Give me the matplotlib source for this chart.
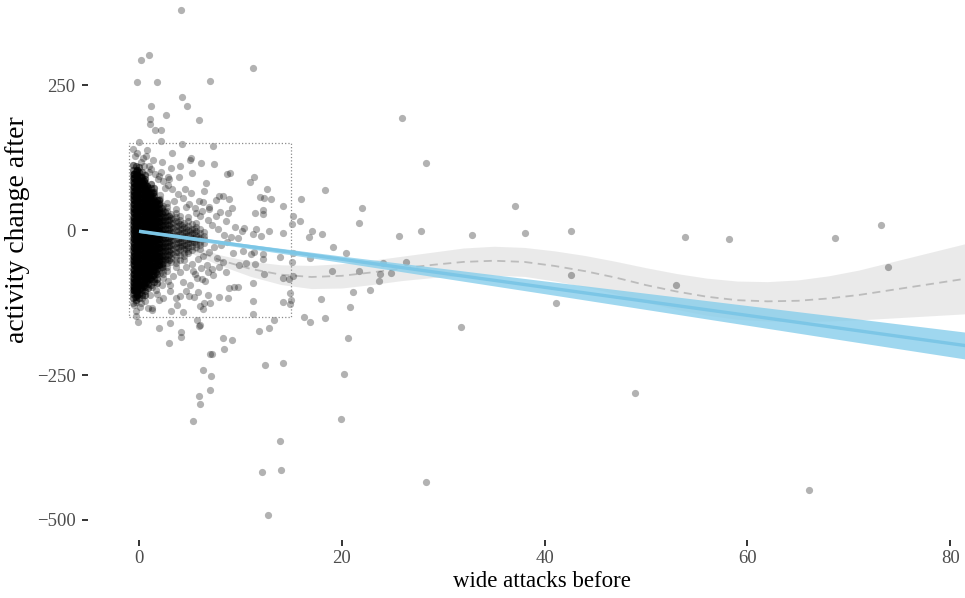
import matplotlib
matplotlib.use("Agg")
import matplotlib.pyplot as plt
from matplotlib.patches import Rectangle

# ---- individual observations (wide attacks before, activity change after) ----
obs_x = [4.1, 1.0, 0.2, 11.2, -0.2, 1.8, 7.0, 4.2, 1.2, 4.7, 2.7, 1.1, 1.1, 5.9, 1.6, 2.2, 2.2, 4.2, 7.3, 0.0,
         -0.2, 0.7, 1.4, 2.3, 3.3, 5.1, 5.0, 6.1, 7.4, 4.0, 3.2, 5.2, 1.0, 2.0, 2.9, 3.9, 8.7, 9.0, 11.3, 10.9,
         6.6, 12.6, 6.4, 5.1, 7.9, 8.3, 11.9, 12.3, 13.0, 7.6, 8.9, 6.3, 9.2, 6.9, 11.4, 12.2, 12.2, 8.0, 8.8, 6.2,
         10.4, 11.5,
         9.8, 11.2, 10.2, 12.0, 12.8, 10.3, 11.0, 11.3, 12.2, 9.9, 10.6, 11.4, 12.2, 15.1, 12.3, 15.2, 8.9, 9.4,
         9.8, 11.2, 3.1, 1.3, 1.8, 4.0, 4.9, 5.8, 5.4, 6.8, 7.9, 8.8, 2.4, 0.3, 0.2, 6.4, 7.0, 6.0, 3.7, 1.3,
         3.2, 4.3, 6.3, 11.2, 11.2,
         -0.3, -0.1, 1.3, 2.0, 3.1, 4.1, 4.1, 3.0, 5.7, 5.9, 6.0, 7.2, 7.0, 8.3, 9.2, 8.4, 6.3, 7.1, 7.0, 5.9,
         6.0, 5.3, 11.8, 12.8, 13.3, 12.4, 13.9, 12.1, 14.0, 12.7,
         25.9, 28.3, 18.3, 16.0, 22.0, 14.2, 15.2, 15.1, 15.9, 21.7, 14.2, 16.8, 17.1, 18.0, 25.6, 27.8, 32.8, 37.1,
         38.1, 42.6, 19.1, 20.4, 16.9, 15.2, 13.9, 19.0, 21.7, 24.1, 26.3, 23.8, 24.9, 23.7, 42.6, 14.2, 14.8, 21.1,
         22.8, 17.9, 14.9, 15.0, 14.9, 14.2, 20.8, 41.1, 16.3, 16.9, 18.3, 31.8, 20.6, 14.2, 20.2, 19.9, 28.3,
         53.0, 53.8, 58.2, 48.9, 68.6, 73.2, 73.9, 66.1,
         0.2, 0.5, 1.2, 1.6, 2.4, 2.9, 3.3, 3.8, 4.3, 4.9, 5.5, 6.0, 6.8, 7.2, 7.8, 8.4, 9.1, 5.6, 4.6, 3.5,
         2.6, 1.9, 1.0, 0.4, -0.4, -0.6, 0.8, 2.2, 3.0, 4.5, 5.9, 6.9, 7.6, 8.6, 9.5,
         0.2, -0.5, 0.6, 1.1, 1.7, 2.3, 2.9, 3.4, 4.0, 4.6, 5.2, 5.8, 6.3, 6.9, 7.4, 8.1, 8.7, 7.7, 6.7, 5.5,
         4.3, 3.1, 2.0, 0.9, -0.3, 0.1, -0.6, 7.2, 8.3, 9.3, 6.2, 5.0, 4.6, 3.6,
         -0.5, -0.5, -0.4, -0.3, 5.3, 6.1, 6.8, 7.3, 5.7, 6.5, 7.9, 8.6]
obs_y = [379, 302, 294, 279, 255, 255, 257, 229, 213, 214, 199, 192, 183, 189, 172, 172, 153, 149, 145, 152,
         132, 128, 121, 117, 132, 125, 121, 116, 113, 110, 107, 98, 100, 93, 92, 92, 97, 99, 91, 82,
         81, 71, 68, 64, 59, 59, 57, 56, 53, 51, 53, 48, 38, 37, 30, 34, 28, 31, 30, 32,
         3, 2,
         -13, -7, -1, -10, -2, -37, -42, -38, -42, -60, -57, -59, -50, -56, -76, -79, -100, -99,
         -98, -92, -95, -99, -110, -113, -113, -107, -116, -112, -116, -117, -117, -117, -107, -126, -125, -131, -129, -134,
         -140, -141, -137, -122, -144,
         -149, -159, -138, -169, -160, -176, -185, -195, -155, -166, -163, -213, -213, -186, -190, -205, -242, -251, -275, -287,
         -300, -329, -174, -169, -156, -232, -363, -418, -413, -491,
         193, 115, 69, 54, 38, 41, 25, 11, 16, 12, -5, -12, -2, -7, -11, -2, -8, 41,
         -5, -1, -29, -39, -48, -40, -46, -71, -71, -57, -55, -76, -74, -88, -78, -82, -85, -107,
         -104, -119, -109, -120, -128, -124, -133, -125, -150, -159, -151, -168, -186, -230, -249, -326, -434,
         -95, -12, -15, -281, -14, 9, -64, -448,
         118, 110, 105, 96, 84, 78, 70, 62, 55, 45, 38, 25, 18, 8, 2, -8, -12, 30, 40, 50,
         72, 88, 110, 125, 128, 140, 138, 100, 88, 70, 50, 40, 25, 15, 5,
         -125, -130, -122, -112, -103, -95, -88, -80, -72, -64, -58, -50, -44, -38, -30, -25, -20, -48, -60, -75,
         -90, -105, -120, -135, -140, -133, -125, -68, -55, -40, -85, -95, -105, -118,
         -100, -108, -116, -124, -70, -66, -72, -78, -82, -88, -64, -72]

# ---- crowded low-attack region: values per jittered column, each value tied `*_reps` times ----
core_cols = [-0.6, -0.3, 0.0, 0.3, 0.6, 0.9, 1.2, 1.5, 1.8, 2.1, 2.4,
             2.8, 3.2, 3.6, 4.0, 4.4, 4.8, 5.2, 5.6, 6.0, 6.4]
core_vals = [
    [112, 104, 97, 89, 82, 74, 68, 60, 53, 45, 38, 31, 23, 16, 8, 1, -6, -14, -21, -29, -37, -44, -52, -59, -67,
     -75, -82, -90, -97, -104, -111, -118],
    [110, 102, 95, 87, 80, 72, 65, 57, 50, 42, 35, 27, 20, 12, 5, -3, -10, -18, -25, -33, -40, -48, -55, -63,
     -70, -78, -85, -93, -100, -108, -115, -121],
    [108, 100, 93, 85, 78, 70, 63, 55, 48, 40, 33, 26, 18, 11, 3, -4, -12, -19, -27, -34, -42, -49, -57, -64,
     -72, -79, -87, -94, -102, -110, -118],
    [100, 92, 85, 77, 70, 62, 55, 47, 40, 32, 25, 17, 10, 2, -5, -13, -20, -28, -35, -43, -50, -58, -65, -73,
     -80, -88, -95, -103, -112],
    [95, 88, 81, 73, 66, 58, 51, 43, 36, 28, 21, 13, 6, -2, -9, -17, -24, -32, -39, -47, -54, -62, -69, -77, -84,
     -92, -99, -105, -112],
    [72, 65, 57, 50, 42, 35, 27, 20, 12, 5, -3, -10, -18, -25, -33, -40, -48, -55, -63, -70, -78, -85, -93, -100],
    [80, 72, 65, 57, 50, 42, 35, 27, 20, 12, 5, -3, -10, -18, -25, -33, -40, -48, -55, -63, -70, -78, -85, -95],
    [73, 66, 58, 51, 43, 36, 28, 21, 13, 6, -2, -9, -17, -24, -32, -39, -47, -54, -62, -69, -77, -84, -90],
    [52, 45, 37, 30, 22, 15, 7, 0, -8, -15, -23, -30, -38, -45, -53, -60, -68, -75, -85, -92],
    [61, 54, 46, 39, 31, 24, 16, 9, 1, -6, -14, -21, -29, -36, -44, -51, -59, -66, -74],
    [41, 33, 26, 18, 11, 3, -4, -12, -19, -27, -34, -42, -49, -57, -64, -70, -76, -83],
    [47, 40, 33, 25, 18, 10, 3, -5, -12, -20, -27, -35, -42, -50, -57, -64, -70],
    [27, 20, 12, 5, -3, -10, -18, -25, -33, -40, -48, -55],
    [37, 30, 22, 15, 7, 0, -8, -15, -23, -30, -38, -45, -52, -57, -64],
    [25, 17, 10, 2, -5, -13, -20, -28, -35, -43, -51],
    [12, 5, -3, -10, -18, -25, -33, -40, -45, -52],
    [22, 15, 7, 0, -8, -15, -23, -30, -36, -40],
    [10, 2, -5, -13, -20, -27, -35],
    [12, 6, -2, -9, -17, -24, -30],
    [2, -6, -13, -20, -26, -33],
    [-3, -10, -16, -22],
]
core_reps = [2, 2, 2, 2, 2, 2, 2, 2, 2, 1, 1, 1, 1, 1, 1, 1, 1, 1, 1, 1, 1]

inner_cols = [-0.45, -0.15, 0.15, 0.45, 0.75, 1.05, 1.35, 1.65, 1.95, 2.25,
              2.6, 3.0, 3.4, 3.8, 4.2, 4.6, 5.0, 5.4, 5.8]
inner_vals = [
    [96, 89, 81, 74, 66, 59, 51, 44, 36, 29, 21, 14, 6, -1, -9, -16, -24, -31, -39, -46, -54, -61, -69, -76,
     -84, -91, -98, -104],
    [103, 97, 89, 82, 74, 67, 59, 52, 44, 37, 29, 22, 14, 7, -1, -8, -16, -23, -31, -38, -46, -53, -61, -68,
     -76, -83, -91, -98, -105, -112],
    [92, 85, 77, 70, 62, 55, 47, 40, 32, 25, 17, 10, 2, -5, -13, -20, -28, -35, -43, -50, -58, -65, -73, -80,
     -88, -95, -100],
    [84, 77, 69, 62, 54, 47, 39, 32, 24, 17, 9, 2, -6, -13, -21, -28, -36, -43, -51, -58, -66, -73, -81, -88, -94],
    [76, 69, 61, 54, 46, 39, 31, 24, 16, 9, 1, -6, -14, -21, -29, -36, -44, -51, -59, -66, -74, -81, -88],
    [62, 55, 47, 40, 32, 25, 17, 10, 2, -5, -13, -20, -28, -35, -43, -50, -58, -65, -73, -83],
    [63, 56, 48, 41, 33, 26, 18, 11, 3, -4, -12, -19, -27, -34, -42, -49, -57, -64, -71, -78],
    [49, 42, 34, 27, 19, 12, 4, -3, -11, -18, -26, -33, -41, -48, -56, -63, -73],
    [51, 44, 36, 29, 21, 14, 6, -1, -9, -16, -24, -31, -39, -46, -54, -61],
    [38, 30, 23, 15, 8, 0, -7, -15, -22, -30, -37, -45, -52, -58, -63],
    [31, 23, 16, 8, 1, -7, -14, -22, -29, -37, -44, -51],
    [24, 17, 9, 2, -6, -13, -21, -28, -36, -43, -52],
    [19, 12, 4, -3, -11, -18, -26, -33, -41],
    [14, 7, -1, -8, -16, -23, -31, -38],
    [9, 2, -6, -13, -21, -28],
    [4, -3, -11, -18, -26, -33],
    [-1, -8, -16, -23],
    [2, -6, -13, -20],
    [-10, -16],
]
inner_reps = [4, 4, 4, 4, 4, 4, 3, 3, 3, 2, 2, 2, 1, 1, 1, 1, 1, 1, 1]

# ---- linear fit with 95% band ----
lm_x = [0, 10, 20, 30, 40, 50, 60, 70, 83]
lm_fit = [-2.0, -26.2, -50.4, -74.6, -98.8, -123.0, -147.2, -171.4, -202.9]
lm_lo = [-4.5, -29.7, -55.9, -82.9, -109.8, -137.0, -164.2, -191.4, -226.5]
lm_hi = [0.5, -22.7, -44.9, -66.3, -87.8, -109.0, -130.2, -151.4, -179.3]

# ---- loess smooth with band ----
ls_x = [0, 2, 5, 8, 11, 14, 17, 20, 23, 26, 29, 32, 35, 38, 41, 44, 47, 50, 53, 56, 59, 62, 65, 68,
        71, 74, 77, 80, 83]
ls_fit = [-4, -14, -32, -52, -67, -77, -81, -79, -73, -66, -60, -55, -53, -55, -62, -71, -82, -95, -106,
          -115, -121, -123, -122, -118, -112, -104, -96, -88, -80]
ls_lo = [-10, -20, -39, -61, -80, -94, -101, -100, -94, -87, -82, -79, -78, -80, -88, -98, -110, -125,
         -137, -147, -154, -157, -158, -157, -155, -152, -149, -146, -143]
ls_hi = [2, -8, -25, -43, -54, -60, -61, -58, -52, -45, -38, -31, -28, -30, -36, -44, -54, -65, -75,
         -83, -88, -89, -86, -79, -69, -56, -43, -30, -17]

# zoom window highlighted on the plot
box_x = (-1, 15)
box_y = (-150, 150)

x_ticks = [0, 20, 40, 60, 80]
y_ticks = [250, 0, -250, -500]

serif = ["Liberation Serif", "DejaVu Serif"]

fig = plt.figure(figsize=(9.65, 5.98), dpi=100)
ax = fig.add_axes([88 / 965, 58 / 598, 877 / 965, 540 / 598])

# loess smooth sits underneath the points
ax.fill_between(ls_x, ls_lo, ls_hi, color="#999999", alpha=0.2, linewidth=0, zorder=0.5)
ax.plot(ls_x, ls_fit, color="#bcbcbc", linewidth=1.3, dashes=(4.5, 3), zorder=0.6)

# expand tied values
cx, cy = [], []
for cols, vals, reps in ((core_cols, core_vals, core_reps), (inner_cols, inner_vals, inner_reps)):
    for x0, ys, r in zip(cols, vals, reps):
        for y0 in ys:
            cx += [x0] * r
            cy += [y0] * r

pt_style = dict(s=27, color="black", alpha=0.3, linewidths=0, zorder=1)
ax.scatter(obs_x, obs_y, **pt_style)
ax.scatter(cx, cy, **pt_style)

ax.add_patch(Rectangle((box_x[0], box_y[0]), box_x[1] - box_x[0], box_y[1] - box_y[0],
                       fill=False, edgecolor="#8a8a8a", linestyle=":", linewidth=0.9, zorder=2))

ax.fill_between(lm_x, lm_lo, lm_hi, color="#87CEEB", alpha=0.8, linewidth=0, zorder=3)
ax.plot(lm_x, lm_fit, color="#7cc6e6", linewidth=2.4, solid_capstyle="butt", zorder=4)

ax.set_xlim(-5.03, 81.46)
ax.set_ylim(-534.5, 396.6)
ax.set_xticks(x_ticks)
ax.set_yticks(y_ticks)
ax.set_xticklabels([str(v) for v in x_ticks])
ax.set_yticklabels([str(v).replace("-", "\u2212") for v in y_ticks])

for s in ax.spines.values():
    s.set_visible(False)
ax.tick_params(axis="both", length=4, width=1.4, color="#333333", labelcolor="#4d4d4d",
               labelsize=13.5)
ax.tick_params(axis="y", pad=5)
ax.tick_params(axis="x", pad=3)
for lab in ax.get_xticklabels() + ax.get_yticklabels():
    lab.set_family(serif)

ax.set_xlabel("wide attacks before", family=serif, fontsize=16.5, color="black")
ax.set_ylabel("activity change after", family=serif, fontsize=20, color="black")
ax.xaxis.set_label_coords(0.518, -0.057)
ax.yaxis.set_label_coords(-0.066, 0.575)

fig.savefig("out.png", dpi=100)
